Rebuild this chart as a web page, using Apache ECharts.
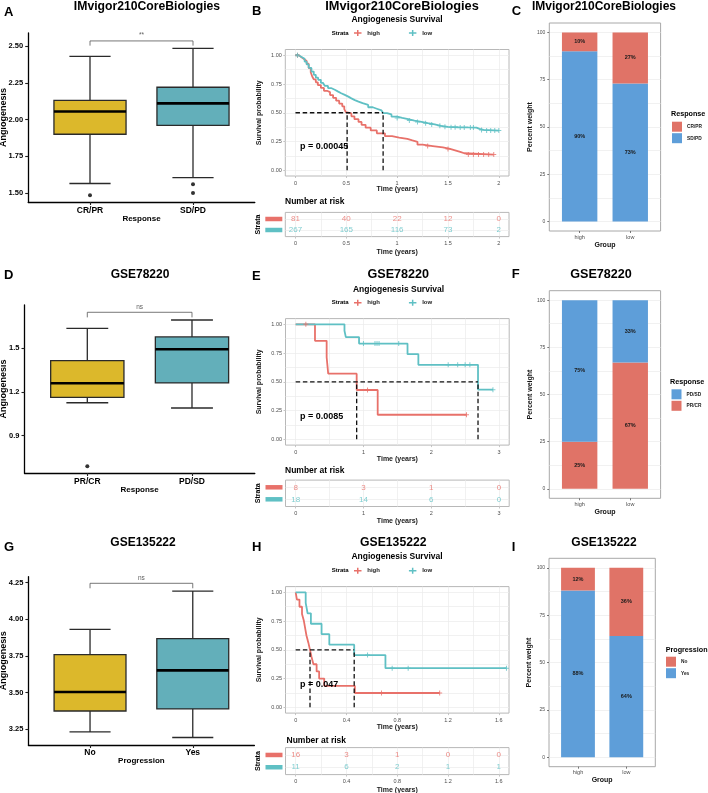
<!DOCTYPE html>
<html><head><meta charset="utf-8">
<script src="https://cdn.jsdelivr.net/npm/echarts@6/dist/echarts.min.js"></script>
<style>html,body{margin:0;padding:0;background:#fff}#c{width:708px;height:793px}</style>
</head><body><div id="c"></div>
<script>
// ===================== DATA =====================
// Box plots: [lower whisker, Q1, median, Q3, upper whisker]
const boxA_categories = ['CR/PR', 'SD/PD'];
const boxA_stats = [[1.565, 1.90, 2.055, 2.13, 2.43], [1.605, 1.96, 2.11, 2.22, 2.485]];
const boxA_outliers = [[1.485], [1.56, 1.50]];
const boxA_yTicks = [1.50, 1.75, 2.00, 2.25, 2.50];
const boxA_bracket = [2.503, 2.535];
const boxA_sig = '**';

const boxD_categories = ['PR/CR', 'PD/SD'];
const boxD_stats = [[1.126, 1.163, 1.26, 1.415, 1.637], [1.09, 1.262, 1.493, 1.578, 1.694]];
const boxD_outliers = [[0.69], []];
const boxD_yTicks = [0.9, 1.2, 1.5];
const boxD_bracket = [1.712, 1.747];
const boxD_sig = 'ns';

const boxG_categories = ['No', 'Yes'];
const boxG_stats = [[3.232, 3.375, 3.505, 3.759, 3.932], [3.194, 3.389, 3.652, 3.868, 4.193]];
const boxG_outliers = [[], []];
const boxG_yTicks = [3.25, 3.50, 3.75, 4.00, 4.25];
const boxG_bracket = [4.212, 4.246];
const boxG_sig = 'ns';

// Kaplan-Meier curves: [time, survival]
const kmB_high = [[0,1],[0.03,0.988],[0.05,0.975],[0.07,0.963],[0.09,0.951],[0.11,0.926],[0.13,0.889],[0.15,0.852],[0.165,0.815],[0.18,0.79],[0.2,0.765],[0.22,0.741],[0.25,0.716],[0.28,0.691],[0.31,0.679],[0.34,0.654],[0.37,0.63],[0.4,0.605],[0.43,0.58],[0.46,0.556],[0.48,0.531],[0.495,0.506],[0.508,0.494],[0.55,0.469],[0.58,0.444],[0.62,0.42],[0.65,0.395],[0.69,0.37],[0.74,0.346],[0.8,0.321],[0.88,0.296],[0.95,0.284],[1.02,0.272],[1.1,0.259],[1.15,0.247],[1.2,0.222],[1.25,0.21],[1.35,0.198],[1.45,0.185],[1.52,0.173],[1.57,0.16],[1.62,0.148],[1.66,0.136],[1.95,0.136]];
const kmB_low = [[0,1],[0.03,0.985],[0.06,0.97],[0.09,0.945],[0.11,0.92],[0.13,0.89],[0.157,0.858],[0.18,0.83],[0.2,0.805],[0.223,0.786],[0.25,0.76],[0.27,0.745],[0.289,0.733],[0.32,0.715],[0.35,0.7],[0.387,0.684],[0.42,0.67],[0.45,0.655],[0.485,0.64],[0.52,0.625],[0.55,0.61],[0.584,0.597],[0.62,0.583],[0.66,0.568],[0.715,0.548],[0.76,0.535],[0.8,0.52],[0.846,0.507],[0.862,0.497],[0.9,0.485],[0.944,0.467],[1.0,0.455],[1.05,0.445],[1.108,0.432],[1.17,0.42],[1.24,0.409],[1.3,0.398],[1.37,0.386],[1.43,0.378],[1.5,0.374],[1.6,0.372],[1.7,0.371],[1.78,0.36],[1.81,0.351],[1.85,0.345],[2.0,0.345]];
const kmB_highCensor = [[0.02,1],[1.3,0.21],[1.5,0.185],[1.7,0.136],[1.75,0.136],[1.8,0.136],[1.85,0.136],[1.9,0.136],[1.95,0.136]];
const kmB_lowCensor = [[0.02,1],[1.0,0.455],[1.12,0.432],[1.2,0.42],[1.28,0.409],[1.34,0.398],[1.42,0.386],[1.47,0.378],[1.53,0.374],[1.57,0.374],[1.62,0.372],[1.66,0.372],[1.72,0.371],[1.75,0.371],[1.83,0.351],[1.88,0.345],[1.92,0.345],[1.96,0.345],[2.0,0.345]];
const kmB_medians = [0.508, 0.862];
const kmB_breaks = [0, 0.5, 1, 1.5, 2];
const kmB_pval = 'p = 0.00045';
const kmB_riskHigh = [81, 40, 22, 12, 0];
const kmB_riskLow = [267, 165, 116, 73, 2];

const kmE_high = [[0,1],[0.285,0.857],[0.457,0.714],[0.48,0.571],[0.9,0.429],[1.21,0.214],[2.52,0.214]];
const kmE_low = [[0,1],[0.72,0.944],[0.74,0.889],[0.935,0.833],[1.65,0.741],[1.81,0.648],[2.69,0.432],[2.91,0.432]];
const kmE_highCensor = [[0.15,1],[1.06,0.429],[2.52,0.214]];
const kmE_lowCensor = [[1.0,0.833],[1.17,0.833],[1.2,0.833],[1.23,0.833],[1.52,0.833],[2.25,0.648],[2.39,0.648],[2.5,0.648],[2.57,0.648],[2.91,0.432]];
const kmE_medians = [0.9, 2.69];
const kmE_breaks = [0, 1, 2, 3];
const kmE_pval = 'p = 0.0085';
const kmE_riskHigh = [8, 3, 1, 0];
const kmE_riskLow = [18, 14, 6, 0];

const kmH_high = [[0,1],[0.01,0.9375],[0.03,0.875],[0.05,0.8125],[0.065,0.75],[0.075,0.6875],[0.085,0.625],[0.1,0.5625],[0.113,0.5],[0.125,0.4375],[0.14,0.375],[0.165,0.3125],[0.185,0.25],[0.225,0.1875],[0.466,0.125],[1.134,0.125]];
const kmH_low = [[0,1],[0.079,0.909],[0.094,0.818],[0.12,0.727],[0.204,0.636],[0.265,0.545],[0.461,0.455],[0.707,0.341],[1.66,0.341]];
const kmH_highCensor = [[0.676,0.125],[1.134,0.125]];
const kmH_lowCensor = [[0.566,0.455],[0.76,0.341],[0.886,0.341],[1.66,0.341]];
const kmH_medians = [0.113, 0.461];
const kmH_breaks = [0, 0.4, 0.8, 1.2, 1.6];
const kmH_pval = 'p = 0.047';
const kmH_riskHigh = [16, 3, 1, 0, 0];
const kmH_riskLow = [11, 6, 2, 1, 1];

// Stacked percentage bars
const barGroups = ['high', 'low'];
const barC_CRPR = [10, 27];
const barC_SDPD = [90, 73];
const barF_PDSD = [75, 33];
const barF_PRCR = [25, 67];
const barI_No = [12, 36];
const barI_Yes = [88, 64];
const barYTicks = [0, 25, 50, 75, 100];

// ===================== STYLE / LAYOUT =====================
const FONT = '"Liberation Sans", Arial, Helvetica, sans-serif';
const COL = {yellow:'#DCB82B', teal:'#63AFBA', kmHigh:'#E8716A', kmLow:'#5FC0C4',
  barRed:'#E07367', barBlue:'#5E9ED9', grid:'#EBEBEB', border:'#B8B8B8', tick:'#4D4D4D'};
const BOX_W = 0.7, CAP_W = 0.4, BAR_W = 0.7;
const KM_ICON = 'path://M0,4H10V6H0Z M4,1H6V9H4Z';
const CENSOR = 'path://M2,0H3V2H5V3H3V5H2V3H0V2H2Z';

const grids = [], xAxes = [], yAxes = [], series = [], legends = [], graphics = [];
function addGrid(g){ grids.push(Object.assign({containLabel:false, outerBoundsMode:'none'}, g)); return grids.length-1; }
function addX(o){ xAxes.push(o); return xAxes.length-1; }
function addY(o){ yAxes.push(o); return yAxes.length-1; }
function txt(x, y, text, size, weight, align, color){
  graphics.push({type:'text', x:x, y:y, z:100, silent:true, style:{text:text,
    font:(weight||'bold')+' '+size+'px '+FONT, fill:color||'#000',
    align:align||'left', verticalAlign:'middle', textAlign:align||'left', textVerticalAlign:'middle'}});
}
const tStyle = (size, weight, color) => ({fontSize:size, fontWeight:weight||'normal', color:color||'#000', fontFamily:FONT});
const numFmt = v => String(+Number(v).toFixed(2));

function makeBoxRender(colors){
  return function(params, api){
    const x = api.value(0);
    const pLo = api.coord([x, api.value(1)]), pQ1 = api.coord([x, api.value(2)]),
          pMed = api.coord([x, api.value(3)]), pQ3 = api.coord([x, api.value(4)]),
          pHi = api.coord([x, api.value(5)]);
    const unit = api.size([1, 0])[0];
    const bw = unit*BOX_W/2, cw = unit*CAP_W/2, cx = pMed[0];
    const ls = {stroke:'#2a2a2a', lineWidth:1.3};
    return {type:'group', children:[
      {type:'line', shape:{x1:cx,y1:pLo[1],x2:cx,y2:pQ1[1]}, style:ls},
      {type:'line', shape:{x1:cx,y1:pQ3[1],x2:cx,y2:pHi[1]}, style:ls},
      {type:'line', shape:{x1:cx-cw,y1:pLo[1],x2:cx+cw,y2:pLo[1]}, style:ls},
      {type:'line', shape:{x1:cx-cw,y1:pHi[1],x2:cx+cw,y2:pHi[1]}, style:ls},
      {type:'rect', shape:{x:cx-bw,y:pQ3[1],width:2*bw,height:pQ1[1]-pQ3[1]}, style:{fill:colors[params.dataIndex], stroke:'#2a2a2a', lineWidth:1.3}},
      {type:'line', shape:{x1:cx-bw,y1:pMed[1],x2:cx+bw,y2:pMed[1]}, style:{stroke:'#000', lineWidth:2.6}}
    ]};
  };
}

function makeBarRender(color){
  return function(params, api){
    const x = api.value(0);
    const p0 = api.coord([x, api.value(1)]), p1 = api.coord([x, api.value(2)]);
    const w = api.size([1, 0])[0]*BAR_W;
    return {type:'rect', shape:{x:p0[0]-w/2, y:p1[1], width:w, height:p0[1]-p1[1]}, style:{fill:color},
      textContent:{style:{text:api.value(3) + '%', font:'bold 5.5px ' + FONT, fill:'#1a1a1a'}},
      textConfig:{position:'inside'}};
  };
}

function boxPanel(lay, cats, stats, outliers, yTicks, dec, bracket, sig, xName){
  const g = addGrid({left:lay.left, top:lay.top, width:lay.width, height:lay.height});
  const xi = addX({gridIndex:g, type:'value', position:'bottom', min:0.4, max:2.6,
    axisLine:{show:true, onZero:false, lineStyle:{color:'#000', width:1.3}},
    axisTick:{show:true, customValues:[1,2], length:3, lineStyle:{color:'#222', width:1.1}},
    axisLabel:Object.assign({show:true, customValues:[1,2], formatter:v => cats[Math.round(v)-1], margin:lay.xLabelMargin}, tStyle(8.5,'bold')),
    splitLine:{show:false}, name:xName, nameLocation:'middle', nameGap:lay.xNameGap, nameMoveOverlap:false,
    nameTextStyle:tStyle(8,'bold')});
  const yi = addY({gridIndex:g, type:'value', position:'left', min:lay.yMin, max:lay.yMax,
    axisLine:{show:true, onZero:false, lineStyle:{color:'#000', width:1.3}},
    axisTick:{show:true, customValues:yTicks, length:3, lineStyle:{color:'#222', width:1.1}},
    axisLabel:Object.assign({show:true, customValues:yTicks, formatter:v => Number(v).toFixed(dec), margin:5}, tStyle(7.5,'bold')),
    splitLine:{show:false}, name:'Angiogenesis', nameLocation:'middle', nameRotate:90, nameGap:lay.yNameGap, nameMoveOverlap:false,
    nameTextStyle:tStyle(9,'bold')});
  series.push({type:'custom', name:'box'+g, xAxisIndex:xi, yAxisIndex:yi, renderItem:makeBoxRender([COL.yellow, COL.teal]),
    encode:{x:0, y:[1,2,3,4,5]}, data:stats.map((s,i) => [i+1].concat(s)), z:3});
  series.push({type:'scatter', name:'out'+g, xAxisIndex:xi, yAxisIndex:yi, symbolSize:4, itemStyle:{color:'#000'},
    data:outliers.flatMap((arr,i) => arr.map(v => [i+1, v])), z:4});
  series.push({type:'line', name:'br'+g, xAxisIndex:xi, yAxisIndex:yi, symbol:'none', lineStyle:{color:'#555', width:0.8},
    data:[[1,bracket[0]],[1,bracket[1]],[2,bracket[1]],[2,bracket[0]]], z:4});
  series.push({type:'scatter', name:'sig'+g, xAxisIndex:xi, yAxisIndex:yi, symbolSize:1, itemStyle:{color:'rgba(0,0,0,0)'},
    data:[[1.5, bracket[1]]], label:Object.assign({show:true, position:'top', distance:1.5, formatter:sig}, tStyle(6.5,'normal','#333')), z:5});
}

function kmPanel(K, lay){
  const xr = [-0.05*K.xMax, 1.05*K.xMax];
  const half = (K.breaks[1]-K.breaks[0])/2;
  const xGrid = []; for (let v = 0; v <= K.xMax + 1e-9; v += half) xGrid.push(+v.toFixed(4));
  const yGrid = [0,0.125,0.25,0.375,0.5,0.625,0.75,0.875,1];
  const yLab = [0,0.25,0.5,0.75,1];
  const g = addGrid({left:lay.left, top:lay.top, width:lay.width, height:lay.height, show:true, borderColor:COL.border, borderWidth:1, backgroundColor:'#fff'});
  const xi = addX({gridIndex:g, type:'value', position:'bottom', min:xr[0], max:xr[1],
    axisLine:{show:false, onZero:false}, axisTick:{show:false, customValues:xGrid},
    splitLine:{show:true, lineStyle:{color:COL.grid, width:0.7}},
    axisLabel:Object.assign({show:true, customValues:K.breaks, formatter:numFmt, margin:4}, tStyle(5.5,'normal',COL.tick)),
    name:'Time (years)', nameLocation:'middle', nameGap:10, nameMoveOverlap:false, nameTextStyle:tStyle(7,'bold','#1a1a1a')});
  addX({gridIndex:g, type:'value', position:'bottom', min:xr[0], max:xr[1], axisLine:{show:false, onZero:false},
    axisTick:{show:true, customValues:K.breaks, length:2, lineStyle:{color:COL.border, width:0.8}}, axisLabel:{show:false}, splitLine:{show:false}});
  const yi = addY({gridIndex:g, type:'value', position:'left', min:-0.05, max:1.05,
    axisLine:{show:false, onZero:false}, axisTick:{show:false, customValues:yGrid},
    splitLine:{show:true, lineStyle:{color:COL.grid, width:0.7}},
    axisLabel:Object.assign({show:true, customValues:yLab, formatter:v => Number(v).toFixed(2), margin:3.5}, tStyle(5.5,'normal',COL.tick)),
    name:'Survival probability', nameLocation:'middle', nameRotate:90, nameGap:23, nameMoveOverlap:false, nameTextStyle:tStyle(7,'bold','#1a1a1a')});
  addY({gridIndex:g, type:'value', position:'left', min:-0.05, max:1.05, axisLine:{show:false, onZero:false},
    axisTick:{show:true, customValues:yLab, length:2, lineStyle:{color:COL.border, width:0.8}}, axisLabel:{show:false}, splitLine:{show:false}});
  const curve = (name, data, color) => ({name:name, type:'line', xAxisIndex:xi, yAxisIndex:yi, data:data, step:'end', symbol:'none',
    lineStyle:{color:color, width:1.8}, itemStyle:{color:color}, z:3});
  const cens = (name, data, color) => ({name:name, type:'scatter', xAxisIndex:xi, yAxisIndex:yi, data:data, symbol:CENSOR, symbolSize:5,
    itemStyle:{color:color}, z:4});
  series.push(curve('high', K.high, COL.kmHigh), curve('low', K.low, COL.kmLow));
  series.push(cens('highC', K.highCensor, COL.kmHigh), cens('lowC', K.lowCensor, COL.kmLow));
  const dash = {color:'#111', width:1.3, type:[4.5,2.7]};
  series.push({name:'medH', type:'line', xAxisIndex:xi, yAxisIndex:yi, symbol:'none', lineStyle:dash, z:5,
    data:[[0,0.5],[Math.max.apply(null, K.medians),0.5]]});
  K.medians.forEach((m,i) => series.push({name:'medV'+i, type:'line', xAxisIndex:xi, yAxisIndex:yi, symbol:'none', lineStyle:dash, z:5,
    data:[[m,0],[m,0.5]]}));
  // risk table
  const gt = addGrid({left:lay.left, top:lay.tTop, width:lay.width, height:lay.tHeight, show:true, borderColor:COL.border, borderWidth:1, backgroundColor:'#fff'});
  const txi = addX({gridIndex:gt, type:'value', position:'bottom', min:xr[0], max:xr[1],
    axisLine:{show:false, onZero:false}, axisTick:{show:false, customValues:xGrid},
    splitLine:{show:true, lineStyle:{color:COL.grid, width:0.7}},
    axisLabel:Object.assign({show:true, customValues:K.breaks, formatter:numFmt, margin:3.5}, tStyle(5.5,'normal',COL.tick)),
    name:'Time (years)', nameLocation:'middle', nameGap:lay.tNameGap, nameMoveOverlap:false, nameTextStyle:tStyle(7,'bold','#1a1a1a')});
  addX({gridIndex:gt, type:'value', position:'bottom', min:xr[0], max:xr[1], axisLine:{show:false, onZero:false},
    axisTick:{show:true, customValues:K.breaks, length:2, lineStyle:{color:COL.border, width:0.8}}, axisLabel:{show:false}, splitLine:{show:false}});
  const tyi = addY({gridIndex:gt, type:'value', position:'left', min:0.4, max:2.6,
    axisLine:{show:false, onZero:false}, axisTick:{show:false, customValues:[1,2]},
    splitLine:{show:true, lineStyle:{color:COL.grid, width:0.7}},
    axisLabel:{show:true, customValues:[1,2], margin:3, formatter:v => Math.round(v) === 2 ? '{h| }' : '{l| }',
      rich:{h:{backgroundColor:COL.kmHigh, width:17, height:4.5, fontSize:4}, l:{backgroundColor:COL.kmLow, width:17, height:4.5, fontSize:4}}},
    name:'Strata', nameLocation:'middle', nameRotate:90, nameGap:24, nameMoveOverlap:false, nameTextStyle:tStyle(7,'bold','#000')});
  const risk = (name, vals, row, color) => ({name:name, type:'scatter', xAxisIndex:txi, yAxisIndex:tyi, symbolSize:1,
    itemStyle:{color:'rgba(0,0,0,0)'}, encode:{x:0, y:1}, data:K.breaks.map((t,i) => [t, row, vals[i]]),
    label:Object.assign({show:true, position:'inside', formatter:p => String(p.value[2])}, tStyle(8,'normal',color)), z:5});
  series.push(risk('riskH', K.riskHigh, 2, COL.kmHigh), risk('riskL', K.riskLow, 1, COL.kmLow));
  legends.push({left:354, top:lay.legTop, orient:'horizontal', data:['high','low'], icon:KM_ICON, itemWidth:9, itemHeight:6,
    itemGap:29, padding:0, selectedMode:false, textStyle:tStyle(6,'bold','#1a1a1a')});
}

function barPanel(lay, bottom, top, legendOrder){
  const g = addGrid({left:lay.left, top:lay.top, width:lay.width, height:lay.height, show:true, borderColor:'#A8A8A8', borderWidth:1, backgroundColor:'#fff'});
  const xi = addX({gridIndex:g, type:'value', position:'bottom', min:0.4, max:2.6,
    axisLine:{show:false, onZero:false}, axisTick:{show:true, customValues:[1,2], length:2, lineStyle:{color:'#555', width:0.8}},
    axisLabel:Object.assign({show:true, customValues:[1,2], formatter:v => barGroups[Math.round(v)-1], margin:3}, tStyle(5.5,'normal',COL.tick)),
    splitLine:{show:false}, name:'Group', nameLocation:'middle', nameGap:lay.xNameGap, nameMoveOverlap:false, nameTextStyle:tStyle(7,'bold','#111')});
  const yGrid = [0,12.5,25,37.5,50,62.5,75,87.5,100];
  const yi = addY({gridIndex:g, type:'value', position:'left', min:-5, max:105,
    axisLine:{show:false, onZero:false}, axisTick:{show:false, customValues:yGrid},
    splitLine:{show:true, lineStyle:{color:COL.grid, width:0.7}},
    axisLabel:Object.assign({show:true, customValues:barYTicks, margin:4}, tStyle(5,'normal',COL.tick)),
    name:'Percent weight', nameLocation:'middle', nameRotate:90, nameGap:16, nameMoveOverlap:false, nameTextStyle:tStyle(7,'bold','#111')});
  addY({gridIndex:g, type:'value', position:'left', min:-5, max:105, axisLine:{show:false, onZero:false},
    axisTick:{show:true, customValues:barYTicks, length:2, lineStyle:{color:'#555', width:0.8}}, axisLabel:{show:false}, splitLine:{show:false}});
  // bottom segment from 0 to its value; top segment stacked on the bottom one
  series.push({name:bottom.name, type:'custom', xAxisIndex:xi, yAxisIndex:yi, renderItem:makeBarRender(bottom.color),
    itemStyle:{color:bottom.color}, encode:{x:0, y:[1,2]}, z:3,
    data:bottom.values.map((v,i) => [i+1, 0, v, v])});
  series.push({name:top.name, type:'custom', xAxisIndex:xi, yAxisIndex:yi, renderItem:makeBarRender(top.color),
    itemStyle:{color:top.color}, encode:{x:0, y:[1,2]}, z:3,
    data:top.values.map((v,i) => [i+1, bottom.values[i], bottom.values[i] + v, v])});
  legends.push({left:lay.legLeft, top:lay.legTop, orient:'vertical', data:legendOrder, icon:'rect', itemWidth:10, itemHeight:10,
    itemGap:1.5, padding:0, selectedMode:false, textStyle:tStyle(4.8,'bold','#1a1a1a')});
}

// ---- build panels ----
boxPanel({left:28.2, top:33, width:226.6, height:169, yMin:1.439, yMax:2.589, xLabelMargin:4, xNameGap:13, yNameGap:20},
  boxA_categories, boxA_stats, boxA_outliers, boxA_yTicks, 2, boxA_bracket, boxA_sig, 'Response');
boxPanel({left:24.5, top:305, width:230.3, height:168, yMin:0.644, yMax:1.797, xLabelMargin:4, xNameGap:13, yNameGap:16},
  boxD_categories, boxD_stats, boxD_outliers, boxD_yTicks, 1, boxD_bracket, boxD_sig, 'Response');
boxPanel({left:28.4, top:576.7, width:226, height:168.3, yMin:3.143, yMax:4.291, xLabelMargin:3.5, xNameGap:12, yNameGap:20},
  boxG_categories, boxG_stats, boxG_outliers, boxG_yTicks, 2, boxG_bracket, boxG_sig, 'Progression');

kmPanel({xMax:2, breaks:kmB_breaks, high:kmB_high, low:kmB_low, highCensor:kmB_highCensor, lowCensor:kmB_lowCensor,
  medians:kmB_medians, riskHigh:kmB_riskHigh, riskLow:kmB_riskLow},
  {left:285.3, top:49.5, width:223.7, height:126.5, tTop:212.4, tHeight:24.2, tNameGap:11.5, legTop:30});
kmPanel({xMax:3, breaks:kmE_breaks, high:kmE_high, low:kmE_low, highCensor:kmE_highCensor, lowCensor:kmE_lowCensor,
  medians:kmE_medians, riskHigh:kmE_riskHigh, riskLow:kmE_riskLow},
  {left:285.5, top:318.6, width:223.7, height:126.5, tTop:480.1, tHeight:26.4, tNameGap:11, legTop:299.7});
kmPanel({xMax:1.6, breaks:kmH_breaks, high:kmH_high, low:kmH_low, highCensor:kmH_highCensor, lowCensor:kmH_lowCensor,
  medians:kmH_medians, riskHigh:kmH_riskHigh, riskLow:kmH_riskLow},
  {left:285.5, top:586.6, width:223.5, height:126.5, tTop:747.6, tHeight:27, tNameGap:11.5, legTop:567.7});

barPanel({left:549.3, top:23, width:111.3, height:208, xNameGap:10.5, legLeft:672, legTop:121.7},
  {name:'SD/PD', values:barC_SDPD, color:COL.barBlue}, {name:'CR/PR', values:barC_CRPR, color:COL.barRed}, ['CR/PR','SD/PD']);
barPanel({left:549.3, top:290.7, width:111.3, height:207.6, xNameGap:10.5, legLeft:671.5, legTop:389.3},
  {name:'PR/CR', values:barF_PRCR, color:COL.barRed}, {name:'PD/SD', values:barF_PDSD, color:COL.barBlue}, ['PD/SD','PR/CR']);
barPanel({left:549, top:558.3, width:106.3, height:208.4, xNameGap:10, legLeft:666, legTop:656.7},
  {name:'Yes', values:barI_Yes, color:COL.barBlue}, {name:'No', values:barI_No, color:COL.barRed}, ['No','Yes']);

// ---- texts ----
[['A',4,12.5],['B',252,11.7],['C',511.7,11.7],['D',4,275.5],['E',252,276.5],['F',511.7,274.7],['G',4,547.5],['H',252,547.2],['I',511.7,547.5]]
  .forEach(a => txt(a[1], a[2], a[0], 13, 'bold', 'left'));
txt(147, 6.5, 'IMvigor210CoreBiologies', 12.2, 'bold', 'center');
txt(402, 6.2, 'IMvigor210CoreBiologies', 12.8, 'bold', 'center');
txt(604, 6.5, 'IMvigor210CoreBiologies', 12, 'bold', 'center');
txt(140, 275, 'GSE78220', 12, 'bold', 'center');
txt(398.3, 275, 'GSE78220', 12.6, 'bold', 'center');
txt(601, 275, 'GSE78220', 12.6, 'bold', 'center');
txt(143, 542.8, 'GSE135222', 12, 'bold', 'center');
txt(393.3, 542.7, 'GSE135222', 12.2, 'bold', 'center');
txt(604, 542.7, 'GSE135222', 12, 'bold', 'center');
txt(397, 19.5, 'Angiogenesis Survival', 8.5, 'bold', 'center');
txt(398.5, 289.3, 'Angiogenesis Survival', 8.5, 'bold', 'center');
txt(397, 556.7, 'Angiogenesis Survival', 8.5, 'bold', 'center');
txt(331.7, 33, 'Strata', 6, 'bold', 'left');
txt(331.7, 302.7, 'Strata', 6, 'bold', 'left');
txt(331.7, 570.7, 'Strata', 6, 'bold', 'left');
txt(300, 146.7, kmB_pval, 9, 'bold', 'left');
txt(300, 416.2, kmE_pval, 9, 'bold', 'left');
txt(300, 684.5, kmH_pval, 9, 'bold', 'left');
txt(285, 202, 'Number at risk', 8.5, 'bold', 'left');
txt(285, 470.7, 'Number at risk', 8.5, 'bold', 'left');
txt(286.5, 740.7, 'Number at risk', 8.5, 'bold', 'left');
txt(671, 114, 'Response', 7.2, 'bold', 'left');
txt(670, 382.3, 'Response', 7.2, 'bold', 'left');
txt(665.7, 650, 'Progression', 7.2, 'bold', 'left');

const chart = echarts.init(document.getElementById('c'), null, {renderer:'canvas', width:708, height:793});
chart.setOption({
  animation:false, backgroundColor:'#fff',
  textStyle:{fontFamily:FONT},
  grid:grids, xAxis:xAxes, yAxis:yAxes, series:series, legend:legends, graphic:graphics,
  tooltip:{show:false}
});
</script></body></html>
